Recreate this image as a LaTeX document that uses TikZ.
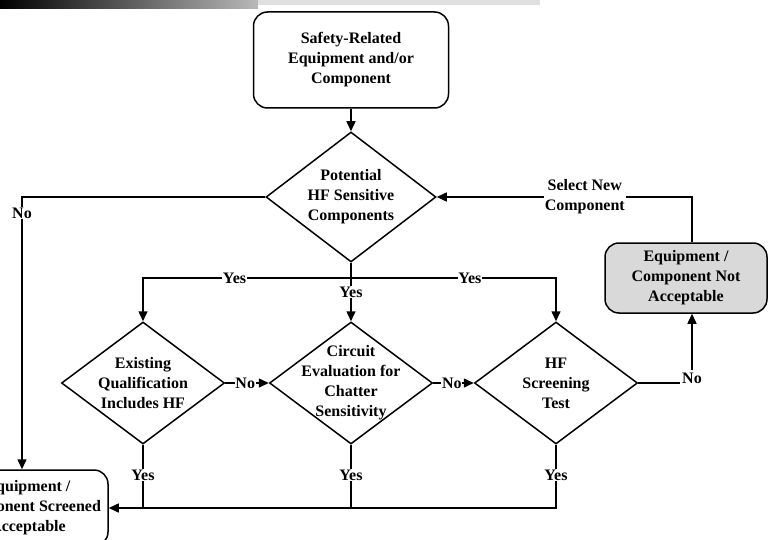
\documentclass[tikz,border=0pt]{standalone}
\usepackage{fontspec}
\setmainfont{Liberation Serif}
\usetikzlibrary{arrows.meta,shapes.geometric}
\begin{document}
\begin{tikzpicture}[x=1pt,y=-1pt, line width=1.5pt,
  every node/.style={font=\fontsize{16}{20}\selectfont\bfseries},
  box/.style={draw, rounded corners=14pt, align=center, inner sep=0pt},
  dia/.style={draw, diamond, inner sep=0pt, minimum width=163pt, minimum height=122pt},
  txt/.style={align=center, inner sep=0pt},
  lbl/.style={fill=white, inner sep=0.8pt, align=center},
  arr/.style={-{Triangle[length=10pt,width=9pt]}}]
\path[use as bounding box] (0,0) rectangle (768,540);
\clip (0,0) rectangle (768,540);
\shade[left color=black, right color=gray!55] (0,0) rectangle (258,9);
\fill[gray!25] (258,0) rectangle (540,5);
% nodes
\node[box, minimum width=195pt, minimum height=96pt] (top) at (351,60) {Safety-Related\\Equipment and/or\\Component};
\node[dia, minimum width=170pt, minimum height=130pt] (d1) at (351,197) {};
\node[txt] (t1) at (d1.center) {Potential\\HF Sensitive\\Components};
\node[dia] (d2) at (143,383) {};
\node[txt] (t2) at (d2.center) {Existing\\Qualification\\Includes HF};
\node[dia] (d3) at (351,383) {};
\node[txt] (t3) at (d3.center) {Circuit\\Evaluation for\\Chatter\\Sensitivity};
\node[dia] (d4) at (556,383) {};
\node[txt] (t4) at (d4.center) {HF\\Screening\\Test};
\node[box, fill=gray!30, minimum width=162pt, minimum height=70pt] (na) at (686,278) {Equipment /\\Component Not\\Acceptable};
\node[box, minimum width=160pt, minimum height=76pt] (sc) at (28,508) {Equipment /\\Component Screened\\Acceptable};
\coordinate (nc) at (22,197);
\coordinate (yb) at (351,278);
% connectors
\draw[arr] (top.south) -- (d1.north);
\draw[arr] (d1.west) -- (nc) -- (nc |- sc.north) node[lbl, pos=0.06]{No};
\draw (d1.south) -- (yb);
\draw[arr] (yb) -| (d2.north) node[lbl,pos=0.28]{Yes};
\draw[arr] (yb) -- (d3.north) node[lbl,pos=0.32]{Yes};
\draw[arr] (yb) -| (d4.north) node[lbl,pos=0.29]{Yes};
\draw[arr] (d2.east) -- (d3.west) node[lbl,pos=0.46]{No};
\draw[arr] (d3.east) -- (d4.west) node[lbl,pos=0.46]{No};
\draw[arr] (d4.east) -| ([xshift=6pt]na.south) node[lbl,inner sep=2.5pt,pos=0.5,yshift=5pt]{No};
\draw[arr] ([xshift=6pt]na.north) |- (d1.east) node[lbl,pos=0.71]{Select New\\Component};
\draw (d2.south) -- (d2.south |- sc.east) node[lbl,pos=0.48]{Yes};
\draw (d3.south) -- (d3.south |- sc.east) node[lbl,pos=0.48]{Yes};
\draw[arr] (d4.south) |- (sc.east) node[lbl,pos=0.24]{Yes};
\end{tikzpicture}
\end{document}
